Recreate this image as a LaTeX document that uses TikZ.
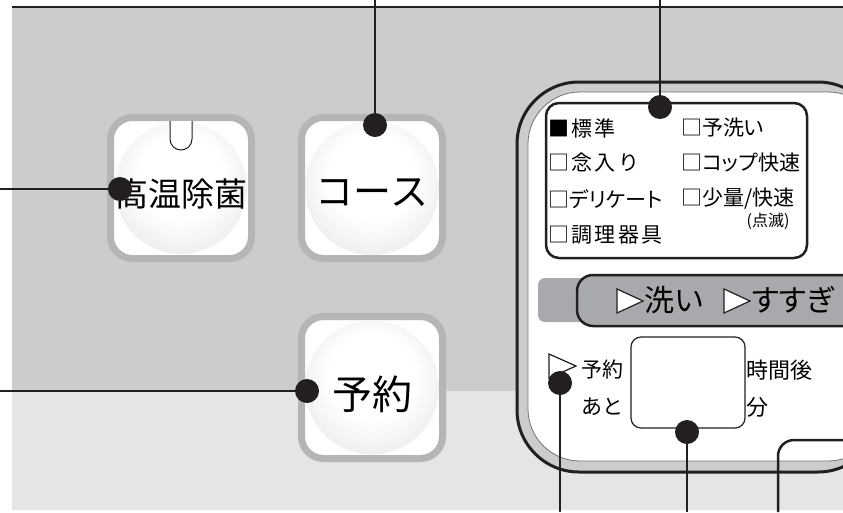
\documentclass[tikz,border=0pt]{standalone}
\usepackage{fontspec}
\setmainfont{Noto Sans CJK JP}
\newfontfamily\propfont[RawFeature=+palt]{Noto Sans CJK JP}
\newfontfamily\widefont[LetterSpace=11]{Noto Sans CJK JP}
\usepackage{tikz}

\definecolor{panelgray}{HTML}{CCCCCC}
\definecolor{lowgray}{HTML}{E5E5E5}
\definecolor{framegray}{HTML}{B5B5B5}
\definecolor{stripgray}{HTML}{A7A9AC}
\definecolor{ink}{HTML}{231F20}
\pgfdeclareradialshading{knobshade}{\pgfpoint{0bp}{6bp}}{color(0bp)=(white); color(16bp)=(white); color(34bp)=(black!10); color(42bp)=(black!16); color(50bp)=(black!18)}

\begin{document}
\begin{tikzpicture}[x=1pt,y=-1pt,
    dot/.style={circle,fill=ink,inner sep=0pt,minimum size=24pt},
    lead/.style={draw=ink,line width=2.5pt},
    knob/.style={draw=framegray,line width=7pt,fill=white,rounded corners=22pt},
    ball/.style={shading=knobshade},
    list/.style={anchor=west,inner sep=0pt,font=\widefont\fontsize{21}{23}\selectfont},
    plist/.style={anchor=west,inner sep=0pt,font=\propfont\fontsize{21}{23}\selectfont}]
    \useasboundingbox (0,0) rectangle (843,512);

    % background
    \fill[white] (0,0) rectangle (843,512);
    \fill[panelgray] (12,8) rectangle (843,391);
    \fill[lowgray] (12,391) rectangle (843,510);
    \draw[ink,line width=2.5pt] (12,7) -- (843,7);

    % buttons
    \draw[knob] (110.5,117.5) rectangle (251.5,258.5);
    \shade[ball] (181,188) circle (66);
    \draw[ink,fill=white,line width=1pt,rounded corners=11pt] (170,121) -- (170,150) -- (192,150) -- (192,121);
    \node (h) at (181,194) {\fontsize{33}{36}\selectfont 高温除菌};

    \draw[knob] (301.5,117.5) rectangle (442.5,258.5);
    \shade[ball] (372,188) circle (67);
    \node (c) at (372,193) {\fontsize{38}{40}\selectfont コース};

    \draw[knob] (301.5,316.5) rectangle (442.5,458.5);
    \shade[ball] (372,387.5) circle (67);
    \node (r) at (372,394) {\fontsize{40}{42}\selectfont 予約};

    % display panel
    \draw[ink,line width=3pt,fill=panelgray,rounded corners=62pt] (517,82) rectangle (880,472);
    \draw[black!55,line width=0.8pt,fill=white,rounded corners=52pt] (528,92) rectangle (880,461);

    \draw[ink,line width=2.5pt,fill=white,rounded corners=13pt] (546,103) rectangle (807,258);
    \node[list] (l1) at (548,128) {■標準};
    \node[list] (l2) at (548,163) {□念入り};
    \node[plist] (l3) at (548,199) {□デリケート};
    \node[list] (l4) at (548,235) {□調理器具};
    \node[plist] (r1) at (681,128) {□予洗い};
    \node[plist] (r2) at (681,163) {□コップ快速};
    \node[plist] (r3) at (681,199) {□少量/快速};
    \node[font=\propfont\fontsize{16}{18}\selectfont] (r4) at (768,221) {(点滅)};

    \fill[stripgray,rounded corners=7pt] (538,278) rectangle (880,322);
    \draw[ink,line width=2.5pt,fill=stripgray,rounded corners=16pt] (577,275) rectangle (880,326);
    \draw[ink,fill=white,line width=1.2pt] (617,289) -- (643,301) -- (617,313) -- cycle;
    \draw[ink,fill=white,line width=1.2pt] (724,289) -- (750,301) -- (724,313) -- cycle;
    \node[anchor=west,inner sep=0pt,font=\fontsize{30}{32}\selectfont] (s1) at (644,300) {洗い};
    \node[anchor=west,inner sep=0pt,font=\propfont\fontsize{30}{32}\selectfont] (s2) at (752,300) {すすぎ};

    \draw[ink,fill=white,line width=1.2pt] (549,354) -- (576,366) -- (549,378) -- cycle;
    \node[anchor=west,inner sep=0pt,font=\fontsize{21}{23}\selectfont] (t1) at (581,370) {予約};
    \node[anchor=west,inner sep=0pt,font=\fontsize{21}{23}\selectfont] (t2) at (581,407) {あと};
    \draw[ink,line width=1.2pt,rounded corners=10pt] (631,337) rectangle (745,428);
    \node[anchor=west,inner sep=0pt,font=\fontsize{22}{24}\selectfont] (t3) at (746,370) {時間後};
    \node[anchor=west,inner sep=0pt,font=\fontsize{22}{24}\selectfont] (t4) at (746,407) {分};

    \draw[ink,line width=2.5pt,rounded corners=16pt] (778,512) -- (778,440) -- (880,440);

    % leader dots
    \node[dot] (1) at (120,189) {};
    \node[dot] (2) at (375,125) {};
    \node[dot] (3) at (307,391) {};
    \node[dot] (4) at (660,107) {};
    \node[dot] (5) at (560,383) {};
    \node[dot] (6) at (687,432) {};
    \coordinate (11) at (0,189);
    \coordinate (12) at (375,0);
    \coordinate (13) at (0,391);
    \coordinate (14) at (660,0);
    \coordinate (15) at (560,512);
    \coordinate (16) at (687,512);

    \path (11) [lead] edge (1)
    (12) [lead] edge (2)
    (13) [lead] edge (3)
    (14) [lead] edge (4)
    (15) [lead] edge (5)
    (16) [lead] edge (6);
\end{tikzpicture}
\end{document}
